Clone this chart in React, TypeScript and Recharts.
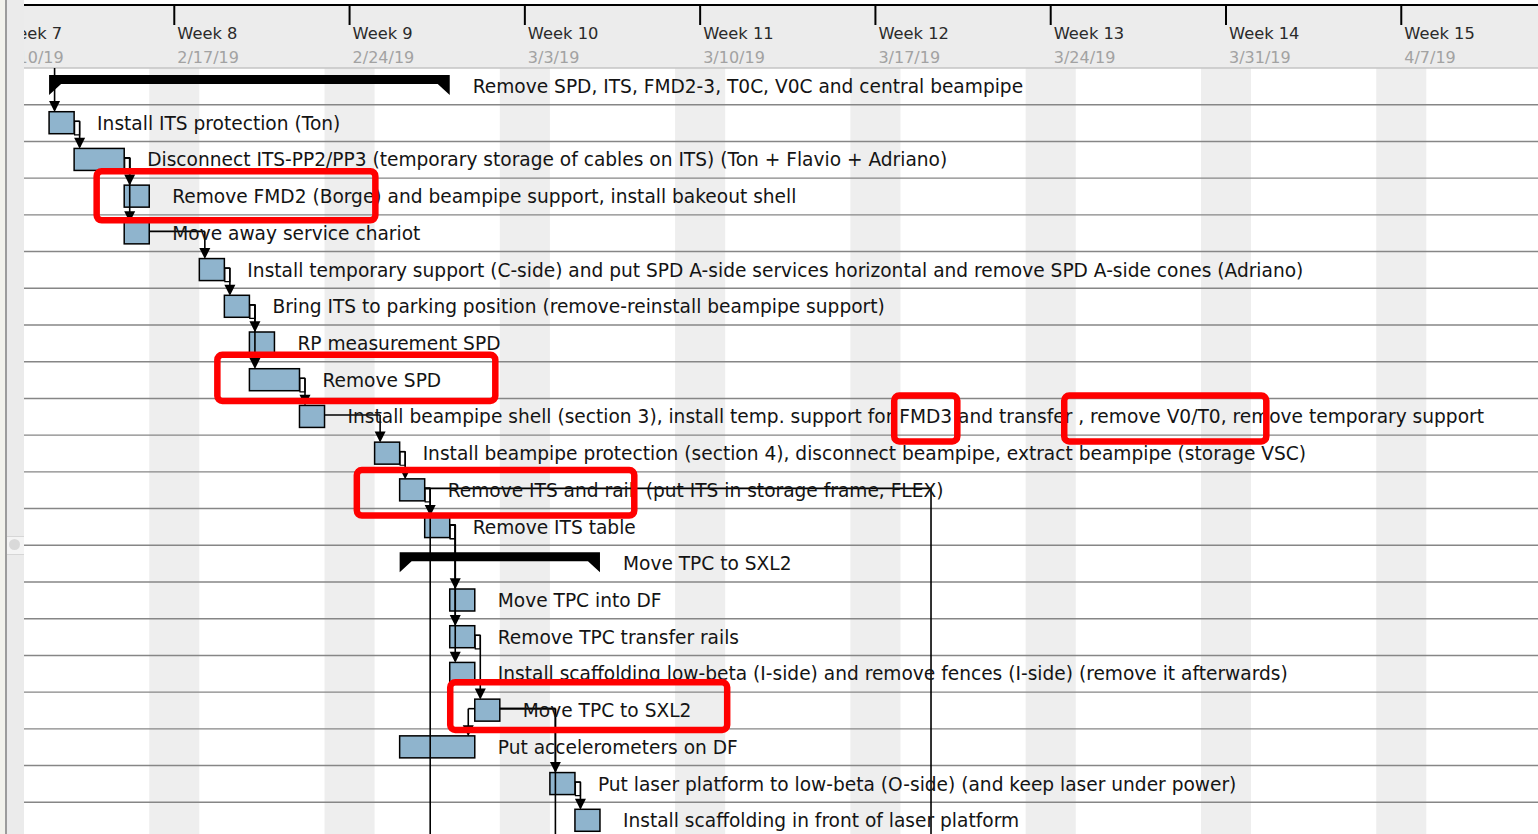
import React from 'react';
import {
  BarChart,
  Bar,
  XAxis,
  YAxis,
  ReferenceArea,
  ReferenceLine,
  ReferenceDot,
  LabelList,
} from 'recharts';

// Time unit is days since Sunday 2/10/19 (start of week 7); rows are counted from the top.
const taskNames = [
  'Remove SPD, ITS, FMD2-3, T0C, V0C and central beampipe',
  'Install ITS protection (Ton)',
  'Disconnect ITS-PP2/PP3 (temporary storage of cables on ITS) (Ton + Flavio + Adriano)',
  'Remove FMD2 (Borge) and beampipe support, install bakeout shell',
  'Move away service chariot',
  'Install temporary support (C-side) and put SPD A-side services horizontal and remove SPD A-side cones (Adriano)',
  'Bring ITS to parking position (remove-reinstall beampipe support)',
  'RP measurement SPD',
  'Remove SPD',
  'Install beampipe shell (section 3), install temp. support for FMD3 and transfer , remove V0/T0, remove temporary support',
  'Install beampipe protection (section 4), disconnect beampipe, extract beampipe (storage VSC)',
  'Remove ITS and rail  (put ITS in storage frame, FLEX)',
  'Remove ITS table',
  'Move TPC to SXL2',
  'Move TPC into DF',
  'Remove TPC transfer rails',
  'Install scaffolding low-beta (I-side) and remove fences (I-side) (remove it afterwards)',
  'Move TPC to SXL2',
  'Put accelerometers on DF',
  'Put laser platform to low-beta (O-side) (and keep laser under power)',
  'Install scaffolding in front of laser platform',
];
const taskStarts = [2, 2, 3, 5, 5, 8, 9, 10, 10, 12, 15, 16, 17, 16, 18, 18, 18, 19, 16, 22, 23];
const taskEnds = [18, 3, 5, 6, 6, 9, 10, 11, 12, 13, 16, 17, 18, 24, 19, 19, 19, 20, 19, 23, 24];
const summaryRows = [0, 13];

const weekTicks = [0, 7, 14, 21, 28, 35, 42, 49, 56];
const weekLabels = ['Week 7', 'Week 8', 'Week 9', 'Week 10', 'Week 11', 'Week 12', 'Week 13', 'Week 14', 'Week 15'];
const weekDates = ['2/10/19', '2/17/19', '2/24/19', '3/3/19', '3/10/19', '3/17/19', '3/24/19', '3/31/19', '4/7/19'];
const weekendStarts = [6, 13, 20, 27, 34, 41, 48, 55];

// finish-to-start links [from, to]
const links = [
  [1, 2], [2, 3], [2, 4], [4, 5], [5, 6], [6, 7], [6, 8], [8, 9], [9, 10], [10, 11],
  [11, 12], [12, 14], [12, 15], [12, 16], [15, 17], [17, 19], [19, 20],
];
// summary start -> first child
const summaryLinks = [[0, 1]];
// start-to-finish
const startLinks = [[17, 18]];
// links running to tasks below the visible rows: [from, start day of target]
const offLinks = [[11, 17], [11, 37], [17, 22]];

// red marks: [x1, x2, y1, y2]
const highlights = [
  [3.9, 15.03, 2.81, 4.15],
  [8.72, 19.82, 7.81, 9.07],
  [35.75, 38.27, 8.92, 10.17],
  [42.54, 50.61, 8.92, 10.17],
  [14.29, 25.37, 10.95, 12.19],
  [18.02, 29.08, 16.73, 18.03],
];

const ROWS = 21;
const BAR_TOP = 0.2;
const MID = 0.45;
const TURN = 0.22;
const FONT = '"DejaVu Sans", Verdana, sans-serif';

const data = taskNames.map((name, i) => ({
  id: `t${i}`,
  row: i,
  name,
  range: [taskStarts[i], taskEnds[i]],
  summary: summaryRows.includes(i),
}));

type Pt = { x: number; y: number };

// build connector polylines, boxes and arrowheads from the link tables
const paths: Pt[][] = [];
const boxes: number[][] = [];
const arrows: Pt[] = [];

links.forEach(([a, b]) => {
  const xt = taskStarts[b] + TURN;
  const y0 = a + MID;
  if (xt - taskEnds[a] < 0.3) {
    boxes.push([xt - 0.2, xt, y0, a + 0.82]);
  }
  paths.push([{ x: taskEnds[a], y: y0 }, { x: xt, y: y0 }, { x: xt, y: b + BAR_TOP - 0.05 }]);
  arrows.push({ x: xt, y: b + BAR_TOP });
});
summaryLinks.forEach(([a, b]) => {
  const xt = taskStarts[b] + TURN;
  paths.push([{ x: xt, y: a }, { x: xt, y: b + BAR_TOP - 0.05 }]);
  arrows.push({ x: xt, y: b + BAR_TOP });
});
startLinks.forEach(([a, b]) => {
  const xt = taskStarts[a] - 0.26;
  const y0 = a + MID;
  paths.push([{ x: taskStarts[a], y: y0 }, { x: xt, y: y0 }, { x: xt, y: b + BAR_TOP - 0.05 }]);
  arrows.push({ x: xt, y: b + BAR_TOP });
});
offLinks.forEach(([a, s]) => {
  const xt = s + TURN;
  const y0 = a + MID;
  paths.push([{ x: taskEnds[a], y: y0 }, { x: xt, y: y0 }, { x: xt, y: ROWS }]);
});

const TaskShape = (props: any) => {
  const { x, y, width, height, payload } = props;
  if (payload && payload.summary) {
    const x2 = x + width;
    const d = `M${x},${y} L${x2},${y} L${x2},${y + 20} L${x2 - 12},${y + 9} L${x + 12},${y + 9} L${x},${y + 20} Z`;
    return <path d={d} fill="#000" />;
  }
  return <rect x={x} y={y} width={width} height={height} fill="#8fb4cd" stroke="#000" strokeWidth={1.5} />;
};

const TaskLabel = (props: any) => {
  const x = Number(props.x);
  const y = Number(props.y);
  const width = Number(props.width);
  const height = Number(props.height);
  return (
    <text
      x={x + width + 23}
      y={y + height / 2 + 7}
      fontSize={18.6}
      fontFamily={FONT}
      fill="#141414"
      style={{ whiteSpace: 'pre' }}
    >
      {props.value}
    </text>
  );
};

const WeekTick = (props: any) => {
  const { x, payload } = props;
  const i = weekTicks.indexOf(payload.value);
  return (
    <g>
      <line x1={x} x2={x} y1={5} y2={25} stroke="#000" strokeWidth={2} />
      <text x={x + 3} y={39} fontSize={16.3} fontFamily={FONT} fill="#2a2a2a">
        {weekLabels[i]}
      </text>
      <text x={x + 3} y={63} fontSize={16} fontFamily={FONT} fill="#a2a2a2">
        {weekDates[i]}
      </text>
    </g>
  );
};

const Arrow = (props: any) => {
  const { cx, cy } = props;
  return <path d={`M${cx - 5.5},${cy - 11} L${cx + 5.5},${cy - 11} L${cx},${cy} Z`} fill="#000" />;
};

const RedBox = (props: any) => {
  const { x, y, width, height } = props;
  return <rect x={x} y={y} width={width} height={height} rx={5} fill="none" stroke="#ff0000" strokeWidth={6.5} />;
};

const App: React.FC = () => {
  return (
    <div style={{ position: 'absolute', left: 0, top: 0, width: 1538, height: 834, overflow: 'hidden', background: '#fff' }}>
      {/* header background */}
      <div style={{ position: 'absolute', left: 0, top: 0, width: 1538, height: 68, background: '#ececec' }} />
      <div style={{ position: 'absolute', left: 24, top: 0, width: 1514, height: 4, background: '#fff' }} />
      <div style={{ position: 'absolute', left: 24, top: 4, width: 1514, height: 2, background: '#000' }} />
      <div style={{ position: 'absolute', left: -1.3, top: 0 }}>
        <BarChart
          width={1540}
          height={839}
          data={data}
          layout="vertical"
          margin={{ top: 0, right: 0, bottom: 0, left: 0 }}
          barSize={22}
          style={{ fontFamily: FONT }}
        >
          <XAxis
            type="number"
            orientation="top"
            domain={[0, 61.5]}
            allowDataOverflow
            ticks={weekTicks}
            interval={0}
            height={68}
            tick={<WeekTick />}
            tickLine={false}
            axisLine={{ stroke: '#c4c4c4', strokeWidth: 1.5 }}
          />
          <YAxis yAxisId="cat" type="category" dataKey="id" hide />
          {/* row grid; in vertical layout a numeric y axis already runs top to bottom */}
          <YAxis yAxisId="rows" type="number" dataKey="row" domain={[0, ROWS]} allowDataOverflow hide />

          {weekendStarts.map((s) => (
            <ReferenceArea
              key={`we${s}`}
              yAxisId="rows"
              x1={s}
              x2={s + 2}
              y1={0}
              y2={ROWS}
              fill="#eeeeee"
              fillOpacity={1}
              stroke="none"
              ifOverflow="hidden"
            />
          ))}
          {Array.from({ length: ROWS - 1 }, (_, i) => i + 1).map((r) => (
            <ReferenceLine key={`row${r}`} yAxisId="rows" y={r} stroke="#868686" strokeWidth={1.4} />
          ))}

          <Bar yAxisId="cat" dataKey="range" shape={<TaskShape />} isAnimationActive={false}>
            <LabelList dataKey="name" content={<TaskLabel />} />
          </Bar>

          {boxes.map((b, i) => (
            <ReferenceArea
              key={`box${i}`}
              yAxisId="rows"
              x1={b[0]}
              x2={b[1]}
              y1={b[2]}
              y2={b[3]}
              fill="#fff"
              fillOpacity={1}
              stroke="#000"
              strokeWidth={1.2}
              zIndex={500}
            />
          ))}
          {paths.flatMap((p, i) =>
            p.slice(1).map((pt, j) => (
              <ReferenceLine
                key={`dep${i}-${j}`}
                yAxisId="rows"
                segment={[p[j], pt]}
                stroke="#000"
                strokeWidth={1.6}
                ifOverflow="hidden"
                zIndex={600}
              />
            )),
          )}
          {arrows.map((a, i) => (
            <ReferenceDot key={`arr${i}`} yAxisId="rows" x={a.x} y={a.y} shape={<Arrow />} zIndex={700} />
          ))}
          {highlights.map((h, i) => (
            <ReferenceArea
              key={`hl${i}`}
              yAxisId="rows"
              x1={h[0]}
              x2={h[1]}
              y1={h[2]}
              y2={h[3]}
              shape={<RedBox />}
              zIndex={3000}
            />
          ))}
        </BarChart>
      </div>
      {/* left splitter column */}
      <div style={{ position: 'absolute', left: 0, top: 0, width: 5, height: 834, background: '#f2f2ec' }} />
      <div style={{ position: 'absolute', left: 5, top: 0, width: 2, height: 834, background: '#9c9c9c' }} />
      <div style={{ position: 'absolute', left: 7, top: 0, width: 17, height: 834, background: '#ebebeb' }} />
      <div
        style={{
          position: 'absolute',
          left: 7,
          top: 536,
          width: 17,
          height: 17,
          background: '#f4f4f4',
          borderTop: '1px solid #d6d6d6',
          borderBottom: '1px solid #d6d6d6',
        }}
      />
      <div style={{ position: 'absolute', left: 9, top: 539, width: 11, height: 11, borderRadius: 6, background: '#d9d9d9' }} />
    </div>
  );
};

export default App;
